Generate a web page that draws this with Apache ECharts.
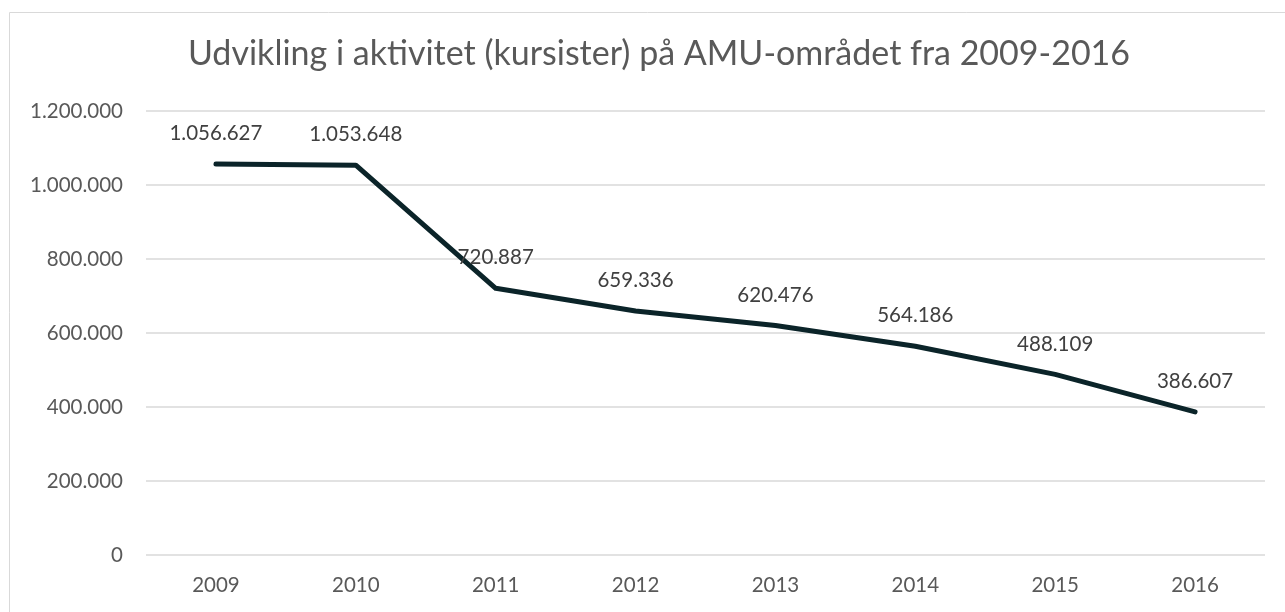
<!DOCTYPE html>
<html>
<head>
<meta charset="utf-8">
<title>Udvikling i aktivitet</title>
<script src="https://cdn.jsdelivr.net/npm/echarts@6/dist/echarts.min.js"></script>
<style>
  html, body { margin: 0; padding: 0; background: #fff; }
  #chart { width: 1285px; height: 612px; }
</style>
</head>
<body>
<div id="chart"></div>
<script>
// data
const years = ["2009", "2010", "2011", "2012", "2013", "2014", "2015", "2016"];
const kursister = [1056627, 1053648, 720887, 659336, 620476, 564186, 488109, 386607];

// danish thousand separator
function fmt(v) {
  return String(v).replace(/\B(?=(\d{3})+(?!\d))/g, ".");
}

const chart = echarts.init(document.getElementById("chart"));
const font = "Lato, 'Open Sans', sans-serif";

chart.setOption({
  animation: false,
  textStyle: { fontFamily: font },
  title: {
    text: "Udvikling i aktivitet (kursister) på AMU-området fra 2009-2016",
    left: 183,
    top: 32,
    textStyle: { fontFamily: font, fontSize: 34, fontWeight: "normal", color: "#595959" },
  },
  graphic: [
    {
      type: "rect",
      shape: { x: 9.5, y: 12.5, width: 1400, height: 800 },
      style: { fill: "none", stroke: "#d9d9d9", lineWidth: 1 },
      silent: true,
    },
  ],
  grid: { left: 146, right: 20, top: 111, bottom: 57 },
  xAxis: {
    type: "category",
    data: years,
    boundaryGap: true,
    axisLine: { show: false },
    axisTick: { show: false },
    axisLabel: { color: "#595959", fontSize: 20.5, margin: 20 },
  },
  yAxis: {
    type: "value",
    min: 0,
    max: 1200000,
    interval: 200000,
    axisLine: { show: false },
    axisTick: { show: false },
    axisLabel: { color: "#595959", fontSize: 20.5, margin: 23, formatter: fmt },
    splitLine: { lineStyle: { color: "#d9d9d9", width: 1.5 } },
  },
  series: [
    {
      type: "line",
      data: kursister,
      symbol: "circle",
      symbolSize: 2,
      showSymbol: true,
      itemStyle: { color: "#0b2429" },
      lineStyle: { color: "#0b2429", width: 5, cap: "round", join: "round" },
      label: {
        show: true,
        position: "top",
        distance: 19,
        color: "#404040",
        fontSize: 20.5,
        formatter: (p) => fmt(p.value),
      },
    },
  ],
});
</script>
</body>
</html>
